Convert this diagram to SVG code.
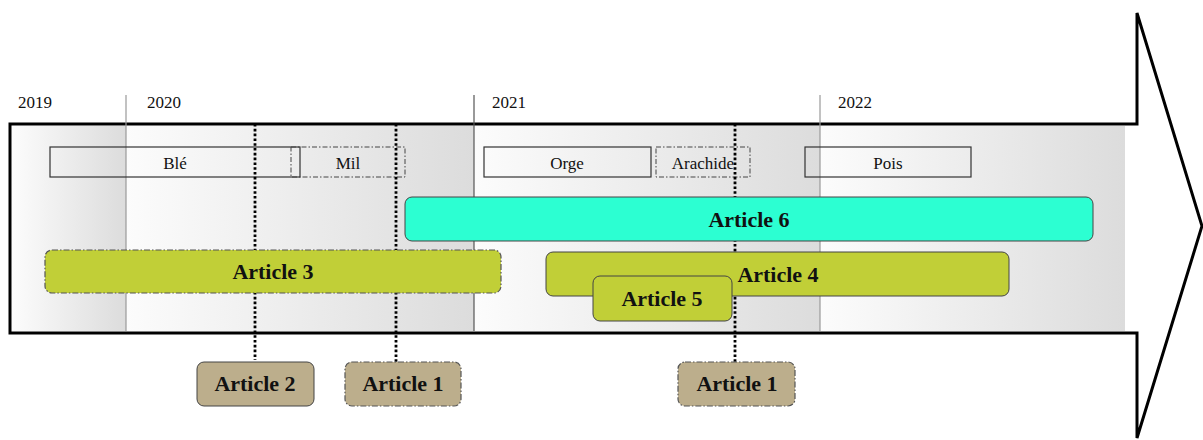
<svg xmlns="http://www.w3.org/2000/svg" width="1203" height="440" viewBox="0 0 1203 440">
<defs>
<linearGradient id="band" x1="0" y1="0" x2="1" y2="0">
<stop offset="0" stop-color="#fcfcfc"/>
<stop offset="1" stop-color="#dcdcdc"/>
</linearGradient>
<style>
.yr{font-family:"Liberation Serif",serif;font-size:17px;fill:#111}
.crop{font-family:"Liberation Serif",serif;font-size:17px;fill:#111;text-anchor:middle}
.cbox{fill:none;stroke:#333;stroke-width:1.2}
.cboxd{fill:none;stroke:#444;stroke-width:1;stroke-dasharray:5 2 1.5 2}
.art{font-family:"Liberation Serif",serif;font-size:22px;font-weight:bold;fill:#111;text-anchor:middle}
.green{fill:#C1CF37;stroke:#444;stroke-width:1}
.cyan{fill:#2CFFD2;stroke:#444;stroke-width:1}
.tan{fill:#BCAE8C;stroke:#444;stroke-width:1}
.dd{stroke-dasharray:6 2 1.5 2;stroke:#555;stroke-width:1.2}
.dot{stroke:#000;stroke-width:2.8;stroke-dasharray:2.6 2.2;fill:none}
.yl{stroke:#999;stroke-width:1.2}
</style>
</defs>
<g id="timeline">
<path d="M10,124 H1137 V13 L1202,226 L1137,438 V333 H10 Z" fill="#fff" stroke="#000" stroke-width="3" stroke-linejoin="miter"/>
<rect x="12" y="126" width="114" height="205" fill="url(#band)"/>
<rect x="126" y="126" width="348" height="205" fill="url(#band)"/>
<rect x="474" y="126" width="346" height="205" fill="url(#band)"/>
<rect x="820" y="126" width="305" height="205" fill="url(#band)"/>
<line class="yl" x1="126" y1="95" x2="126" y2="331"/>
<line x1="474" y1="95" x2="474" y2="331" stroke="#555" stroke-width="1.2"/>
<line class="yl" x1="820" y1="95" x2="820" y2="331"/>
<text class="yr" x="18" y="108">2019</text>
<text class="yr" x="147" y="108">2020</text>
<text class="yr" x="492" y="108">2021</text>
<text class="yr" x="838" y="108">2022</text>
</g>
<g id="crops">
<g id="ble"><rect class="cbox" x="50" y="147" width="250" height="30"/><text class="crop" x="175" y="169">Blé</text></g>
<g id="mil"><rect class="cboxd" x="291" y="147" width="114" height="30"/><text class="crop" x="348" y="169">Mil</text></g>
<g id="orge"><rect class="cbox" x="484" y="147" width="167" height="30"/><text class="crop" x="567" y="169">Orge</text></g>
<g id="arachide"><rect class="cboxd" x="656" y="147" width="94" height="30"/><text class="crop" x="703" y="169">Arachide</text></g>
<g id="pois"><rect class="cbox" x="805" y="147" width="166" height="30"/><text class="crop" x="888" y="169">Pois</text></g>
</g>
<g id="connectors">
<line class="dot" x1="255" y1="124" x2="255" y2="360"/>
<line class="dot" x1="396" y1="124" x2="396" y2="362"/>
<line class="dot" x1="735" y1="124" x2="735" y2="362"/>
</g>
<g id="article6"><rect class="cyan" x="405" y="197" width="688" height="44" rx="7"/><text class="art" x="749" y="227">Article 6</text></g>
<g id="article3"><rect class="green dd" x="45" y="250" width="456" height="43" rx="7"/><text class="art" x="273" y="279">Article 3</text></g>
<g id="article4"><rect class="green" x="546" y="252" width="463" height="44" rx="7"/><text class="art" x="778" y="282">Article 4</text></g>
<g id="article5"><rect class="green" x="593" y="276" width="139" height="45" rx="7"/><text class="art" x="662" y="306">Article 5</text></g>
<g id="article2"><rect class="tan" x="197" y="362" width="117" height="44" rx="7"/><text class="art" x="255" y="391">Article 2</text></g>
<g id="article1a"><rect class="tan dd" x="345" y="362" width="116" height="44" rx="7"/><text class="art" x="403" y="391">Article 1</text></g>
<g id="article1b"><rect class="tan dd" x="678" y="362" width="117" height="44" rx="7"/><text class="art" x="737" y="391">Article 1</text></g>
</svg>
